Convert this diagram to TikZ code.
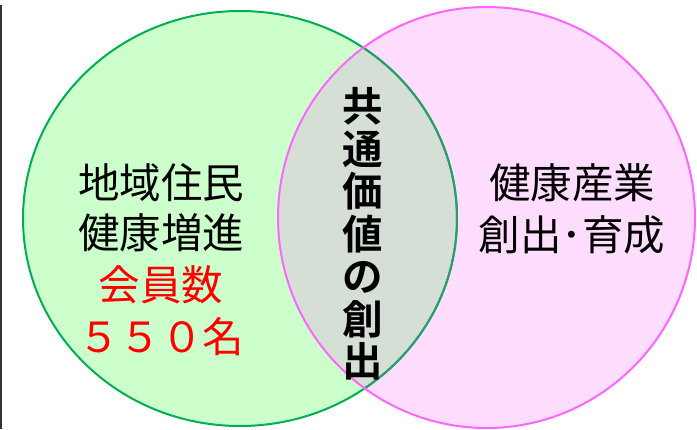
\documentclass[tikz,border=0pt]{standalone}
\usepackage{fontspec}
\newfontfamily\cjk{Noto Sans CJK JP}
\newfontfamily\cjkb{Noto Sans CJK JP Bold}
\definecolor{lgreen}{HTML}{CCFFCC}
\definecolor{dgreen}{HTML}{00B050}
\definecolor{lpink}{HTML}{FFDDFF}
\definecolor{dpink}{HTML}{FF66FF}
\definecolor{overlap}{HTML}{D5DFD5}
\definecolor{teal}{HTML}{2E9A70}
\tikzset{
  lbl/.style={font=\cjk\fontsize{41.5}{44}\selectfont, inner sep=0pt, anchor=center},
  redlbl/.style={lbl, text={rgb,255:red,255;green,0;blue,0}},
  vlbl/.style={font=\cjkb\fontsize{40.5}{42.5}\selectfont, inner sep=0pt, align=center, anchor=center}
}
\begin{document}
\begin{tikzpicture}[x=1pt,y=-1pt]
\useasboundingbox (0,0) rectangle (697,429);
\fill[white] (0,0) rectangle (697,429);
% left vertical rule
\draw[line width=2pt, color={rgb,255:red,51;green,51;blue,51}] (1,5) -- (1,429);
% fills
\fill[lgreen] (240,218.5) ellipse [x radius=217pt, y radius=207.5pt];
\fill[lpink] (486.5,217.5) ellipse [x radius=208.5pt, y radius=210.5pt];
\begin{scope}
\clip (240,218.5) ellipse [x radius=217pt, y radius=207.5pt];
\fill[overlap] (486.5,217.5) ellipse [x radius=208.5pt, y radius=210.5pt];
\end{scope}
% borders
\draw[dgreen, line width=2pt] (240,218.5) ellipse [x radius=217pt, y radius=207.5pt];
\begin{scope}
\clip (486.5,217.5) ellipse [x radius=208.5pt, y radius=210.5pt];
\draw[teal, line width=2pt] (240,218.5) ellipse [x radius=217pt, y radius=207.5pt];
\end{scope}
\draw[dpink, line width=2pt] (486.5,217.5) ellipse [x radius=208.5pt, y radius=210.5pt];
% texts
\node[lbl] (l1) at (161,183) {地域住民};
\node[lbl] (l2) at (161,233) {健康増進};
\node[redlbl] (l3) at (161,285) {会員数};
\node[redlbl] (l4) at (161,337) {５５０名};
\node[lbl] (r1) at (572,183) {健康産業};
\node[lbl] (r2) at (572,235) {創出･育成};
\node[vlbl] (c) at (363,234) {共\\通\\価\\値\\の\\創\\出};
\end{tikzpicture}
\end{document}
